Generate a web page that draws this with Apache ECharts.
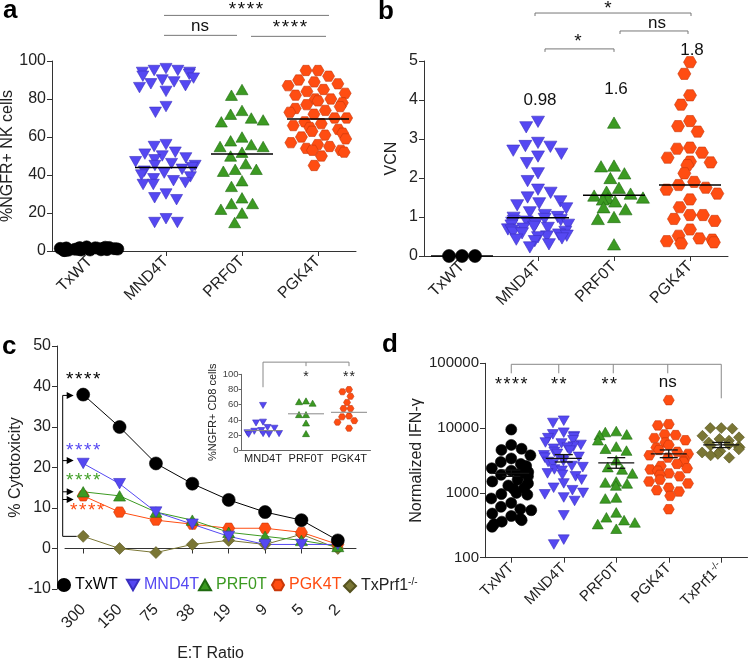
<!DOCTYPE html>
<html><head><meta charset="utf-8">
<script src="https://cdn.jsdelivr.net/npm/echarts@6/dist/echarts.min.js"></script>
<style>html,body{margin:0;padding:0;background:#fff}#main{width:750px;height:660px}</style>
</head><body><div id="main"></div>
<script>
// ================= DATA =================
const groups4 = ['TxWT', 'MND4T', 'PRF0T', 'PGK4T'];
const groups5 = ['TxWT', 'MND4T', 'PRF0T', 'PGK4T', 'TxPrf1'];
const etRatios = ['300', '150', '75', '38', '19', '9', '5', '2'];
const insetGroups = ['MND4T', 'PRF0T', 'PGK4T'];

// panel a: %NGFR+ NK cells
const aTxWT = [0.5,0.8,1.0,1.2,1.5,0.3,0.6,0.9,1.1,1.4,1.8,2.0,0.4,0.7,1.0,1.3,1.6,2.2,0.2,0.5,0.8,1.2,1.5,1.9,0.6,1.0,1.4,0.3,0.9,1.7];
const aMND4T = [96,95,95,94,94,93,92,91,90,89,88,87,86,84,76,73,56,55,52,51,50,49,48,47,46,45,45,44,43,42,41,40,39,38,37,36,35,35,30,28,27,17,15,15];
const aPRF0T = [85,82,74,72,70,69,68,60,58,56,55,55,52,50,46,43,43,42,37,34,28,25,25,22,20,15];
const aPGK4T = [95,95,92,90,89,88,87,85,84,83,82,80,80,79,78,77,76,75,74,73,72,70,70,68,67,66,65,64,63,62,61,60,59,57,56,55,54,53,53,52,50,45];
const aMeans = [1.2, 44, 51, 69.5];

// panel b: VCN
const bTxWT = [0, 0, 0];
const bMND4T = [3.44,3.3,2.9,2.82,2.8,2.7,2.62,2.55,2.38,2.12,1.92,1.7,1.62,1.5,1.4,1.35,1.3,1.22,1.12,1.05,1.0,0.98,0.95,0.92,0.9,0.88,0.85,0.82,0.8,0.78,0.75,0.72,0.7,0.68,0.65,0.62,0.6,0.58,0.55,0.52,0.5,0.48,0.45,0.42,0.38,0.3,0.22];
const bPRF0T = [3.42,2.32,2.3,2.12,2.0,1.75,1.65,1.6,1.55,1.5,1.48,1.45,1.4,1.25,1.2,1.0,0.95,0.3];
const bPGK4T = [4.97,4.67,4.12,3.88,3.46,3.33,3.19,2.78,2.75,2.65,2.52,2.42,2.4,2.33,2.12,1.9,1.82,1.75,1.7,1.6,1.45,1.25,1.05,1.05,0.95,0.9,0.68,0.52,0.45,0.42,0.38,0.35,0.32];
const bMeans = [0, 0.98, 1.56, 1.82];
const bMeanLabels = ['', '0.98', '1.6', '1.8'];

// panel c: % cytotoxicity vs E:T ratio
const cTxWT = [38, 30, 21, 16, 12, 9, 7, 2];
const cMND4T = [21, 16, 9, 6, 3, 1, 1, 1];
const cPRF0T = [14, 13, 9, 7, 4, 3, 2, 0.5];
const cPGK4T = [13, 9, 7, 6, 5, 5, 4, 1];
const cTxPrf1 = [3, 0, -1, 1, 2, 1, 3.5, 0];

// panel c inset: %NGFR+ CD8 cells
const iMND4T = [59,37,36,30,29,26,25,23,22,22,21,21];
const iPRF0T = [65,64,62,47,47,36,22];
const iPGK4T = [80,77,71,63,55,55,45,44,39,37,29];
const iMeans = [26, 48, 50];

// panel d: normalized IFN-gamma
const dTxWT = [9500,5500,4800,4600,3800,3400,3000,2800,2600,2400,2200,2100,2000,1900,1800,1600,1500,1400,1300,1200,1150,1000,960,940,820,700,610,560,540,480,440,400,380,360,330,300];
const dMND4T = [13000,12000,8500,8000,7500,7200,7000,6500,6000,5800,5500,5200,5000,4800,4500,4300,4000,3800,3600,3500,3300,3100,3000,2800,2600,2500,2300,2200,2000,1900,1800,1600,1400,1200,1100,1000,950,850,750,450,190,160];
const dPRF0T = [9000,8700,8000,7800,6500,5200,4800,4500,3200,2500,2300,2000,1500,1450,1400,1300,850,820,500,420,380,350,330,280];
const dPGK4T = [27000,11500,11000,8000,7800,7000,6500,6000,5500,5000,4600,4300,4000,3800,3500,3300,3100,3000,2800,2600,2400,2300,2200,2000,1900,1800,1600,1500,1400,1200,1100,1050,900,560];
const dTxPrf1 = [10000,10000,9800,7600,7200,6800,6400,6000,5600,5400,5200,5000,4700,4400,4200,4000,3800,3500];
const dMeans = [2000, 3400, 2900, 4000, 5500];
const dSemLo = [1800, 3000, 2400, 3500, 5000];
const dSemHi = [2250, 3900, 3500, 4600, 6000];

// ================= STYLE =================
const FONT = 'Liberation Sans, Arial, sans-serif';
const COL = { TxWT: '#000000', MND4T: '#5548f2', PRF0T: '#3c9a22', PGK4T: '#ff4d12', TxPrf1: '#7a7635' };
const BORDER = { TxWT: '#000000', MND4T: '#3a2fc0', PRF0T: '#1f6a10', PGK4T: '#c8380a', TxPrf1: '#55521f' };
const HEX = 'path://M0,50 L25,7 L75,7 L100,50 L75,93 L25,93 Z';
const TRI_DOWN = 'path://M0,0 L100,0 L50,87 Z';
const TRI_UP = 'path://M50,0 L100,87 L0,87 Z';
const SYM = { TxWT: 'circle', MND4T: TRI_DOWN, PRF0T: TRI_UP, PGK4T: HEX, TxPrf1: 'diamond' };

const axisLineStyle = { show: true, lineStyle: { color: '#333', width: 1 } };

function catAxis(grid, cats, extra) {
  return Object.assign({
    gridIndex: grid, type: 'category', data: cats, boundaryGap: true,
    axisLine: axisLineStyle,
    axisTick: { show: true, alignWithLabel: true, length: 5, lineStyle: { color: '#333' } },
    axisLabel: { rotate: 45, fontSize: 16, color: '#222', margin: 8, fontFamily: FONT, interval: 0 },
    splitLine: { show: false }
  }, extra || {});
}
function valAxis(grid, extra) {
  return Object.assign({
    gridIndex: grid, type: 'value',
    axisLine: axisLineStyle,
    axisTick: { show: true, length: 5, lineStyle: { color: '#333' } },
    axisLabel: { fontSize: 16, color: '#222', margin: 6, fontFamily: FONT },
    splitLine: { show: false },
    nameLocation: 'middle',
    nameTextStyle: { fontSize: 16, color: '#222', fontFamily: FONT }
  }, extra || {});
}
function scatter(axisIdx, cat, vals, size) {
  return {
    type: 'scatter', name: 'p' + axisIdx + cat, xAxisIndex: axisIdx, yAxisIndex: axisIdx,
    data: vals.map(v => [cat, v]),
    symbol: SYM[cat], symbolSize: size, symbolKeepAspect: true,
    itemStyle: { color: COL[cat], borderColor: BORDER[cat], borderWidth: 0.6, opacity: 1 },
    z: 2, silent: true
  };
}
function meanSeries(axisIdx, cats, means, width, color, lw) {
  return {
    type: 'custom', xAxisIndex: axisIdx, yAxisIndex: axisIdx, silent: true, z: 10,
    data: cats.map((c, i) => [c, means[i]]),
    renderItem: (p, api) => {
      const pt = api.coord([api.value(0), api.value(1)]);
      return { type: 'line', shape: { x1: pt[0] - width / 2, y1: pt[1], x2: pt[0] + width / 2, y2: pt[1] },
        style: { stroke: color, lineWidth: lw } };
    }
  };
}
function semSeries(axisIdx, cats, means, lo, hi) {
  return {
    type: 'custom', xAxisIndex: axisIdx, yAxisIndex: axisIdx, silent: true, z: 10,
    data: cats.map((c, i) => [c, means[i], lo[i], hi[i]]),
    renderItem: (p, api) => {
      const m = api.coord([api.value(0), api.value(1)]);
      const l = api.coord([api.value(0), api.value(2)]);
      const h = api.coord([api.value(0), api.value(3)]);
      const st = { stroke: '#111', lineWidth: 1.3 };
      return { type: 'group', children: [
        { type: 'line', shape: { x1: m[0] - 18, y1: m[1], x2: m[0] + 18, y2: m[1] }, style: st },
        { type: 'line', shape: { x1: m[0], y1: l[1], x2: m[0], y2: h[1] }, style: st },
        { type: 'line', shape: { x1: m[0] - 9, y1: l[1], x2: m[0] + 9, y2: l[1] }, style: st },
        { type: 'line', shape: { x1: m[0] - 9, y1: h[1], x2: m[0] + 9, y2: h[1] }, style: st }
      ] };
    }
  };
}
function lineSeries(name, vals) {
  return {
    type: 'line', name: name, xAxisIndex: 2, yAxisIndex: 2, data: vals,
    symbol: SYM[name], symbolSize: name === 'TxWT' ? 13 : 12, symbolKeepAspect: true,
    itemStyle: { color: COL[name], borderColor: BORDER[name], borderWidth: 0.6 },
    lineStyle: { color: COL[name], width: 1 }, z: 3, silent: true
  };
}

const chart = echarts.init(document.getElementById('main'), null, { renderer: 'canvas' });

const SUP = { s: { fontSize: 10, padding: [0, 0, 8, 0], color: '#222', fontFamily: FONT } };

const option = {
  animation: false,
  textStyle: { fontFamily: FONT },
  grid: [
    { left: 52, width: 304, top: 61, height: 190, containLabel: false, outerBoundsMode: 'none' },
    { left: 424, width: 304, top: 61, height: 195, containLabel: false, outerBoundsMode: 'none' },
    { left: 65, width: 291, top: 346, height: 243, containLabel: false, outerBoundsMode: 'none' },
    { left: 241.5, width: 129, top: 374.3, height: 76, containLabel: false, outerBoundsMode: 'none' },
    { left: 485, width: 262.5, top: 363.3, height: 194.4, containLabel: false, outerBoundsMode: 'none' }
  ],
  xAxis: [
    catAxis(0, groups4, { jitter: 62, jitterOverlap: false, jitterMargin: 0 }),
    catAxis(1, groups4, { jitter: 62, jitterOverlap: false, jitterMargin: 0 }),
    catAxis(2, etRatios, { offset: 10, name: 'E:T Ratio', nameLocation: 'middle', nameGap: 47,
      nameTextStyle: { fontSize: 16, color: '#222', fontFamily: FONT } }),
    catAxis(3, insetGroups, { jitter: 36, jitterOverlap: false, jitterMargin: 0,
      axisLine: { show: true, lineStyle: { color: '#666', width: 1 } },
      axisTick: { show: false },
      axisLabel: { rotate: 0, fontSize: 11, color: '#222', margin: 3, fontFamily: FONT, interval: 0, hideOverlap: false } }),
    catAxis(4, groups5, { jitter: 40, jitterOverlap: false, jitterMargin: 0,
      axisLabel: { rotate: 45, fontSize: 15, color: '#222', margin: 8, fontFamily: FONT, interval: 0,
        formatter: v => v === 'TxPrf1' ? 'TxPrf1{s|-/-}' : v, rich: SUP } })
  ],
  yAxis: [
    valAxis(0, { min: 0, max: 100, interval: 20, name: '%NGFR+ NK cells', nameGap: 32 }),
    valAxis(1, { min: 0, max: 5, interval: 1, name: 'VCN', nameGap: 24 }),
    valAxis(2, { min: -10, max: 50, interval: 10, offset: 8, name: '% Cytotoxicity', nameGap: 30 }),
    valAxis(3, { min: 0, max: 100, interval: 20, name: '%NGFR+ CD8 cells', nameGap: 19,
      axisLine: { show: true, lineStyle: { color: '#666', width: 1 } },
      axisTick: { show: true, length: 3, lineStyle: { color: '#666' } },
      axisLabel: { fontSize: 9.5, color: '#444', margin: 3, fontFamily: FONT },
      nameTextStyle: { fontSize: 11, color: '#222', fontFamily: FONT } }),
    valAxis(4, { type: 'log', logBase: 10, min: 100, max: 100000, name: 'Normalized IFN-\u03b3', nameGap: 54,
      axisLabel: { fontSize: 15, color: '#222', margin: 6, fontFamily: FONT, formatter: v => String(Math.round(v)) },
      minorTick: { show: false } })
  ],
  legend: [
    ['TxWT', 57, 'circle'], ['MND4T', 126, TRI_DOWN], ['PRF0T', 198, TRI_UP],
    ['PGK4T', 271, HEX], ['TxPrf1', 343, 'diamond']
  ].map(([n, x, ic]) => ({
    left: x, top: 577, itemWidth: 12, itemHeight: 12, padding: 0, selectedMode: false,
    data: [{ name: n, icon: ic, itemStyle: { color: COL[n] } }],
    formatter: nm => nm === 'TxPrf1' ? 'TxPrf1{s|-/-}' : nm,
    textStyle: { fontSize: 16, fontFamily: FONT, color: n === 'TxPrf1' ? '#222' : COL[n], rich: SUP }
  })),
  series: [
    // panel a
    scatter(0, 'TxWT', aTxWT, 12), scatter(0, 'MND4T', aMND4T, 12),
    scatter(0, 'PRF0T', aPRF0T, 12), scatter(0, 'PGK4T', aPGK4T, 12),
    meanSeries(0, groups4, aMeans, 62, '#000', 1.5),
    // panel b
    scatter(1, 'TxWT', bTxWT, 13), scatter(1, 'MND4T', bMND4T, 13),
    scatter(1, 'PRF0T', bPRF0T, 13), scatter(1, 'PGK4T', bPGK4T, 13),
    meanSeries(1, groups4, bMeans, 62, '#000', 1.5),
    // panel c
    lineSeries('TxPrf1', cTxPrf1), lineSeries('PGK4T', cPGK4T), lineSeries('PRF0T', cPRF0T),
    lineSeries('MND4T', cMND4T), lineSeries('TxWT', cTxWT),
    // inset
    scatter(3, 'MND4T', iMND4T, 7), scatter(3, 'PRF0T', iPRF0T, 7), scatter(3, 'PGK4T', iPGK4T, 7),
    meanSeries(3, insetGroups, iMeans, 36, '#888', 1),
    // panel d
    scatter(4, 'TxWT', dTxWT, 11), scatter(4, 'MND4T', dMND4T, 11), scatter(4, 'PRF0T', dPRF0T, 11),
    scatter(4, 'PGK4T', dPGK4T, 11), scatter(4, 'TxPrf1', dTxPrf1, 11),
    semSeries(4, groups5, dMeans, dSemLo, dSemHi)
  ]
};
chart.setOption(option);

// ================= ANNOTATIONS =================
const P = (g, x, y) => chart.convertToPixel({ gridIndex: g }, [x, y]);
const G = [];
function ln(x1, y1, x2, y2, color, w) {
  G.push({ type: 'line', shape: { x1, y1, x2, y2 }, style: { stroke: color || '#666', lineWidth: w || 1 }, z: 20 });
}
function tx(x, y, text, size, color, bold, align) {
  G.push({ type: 'text', x, y, style: { text, fontSize: size, fontFamily: FONT, fill: color || '#111',
    fontWeight: bold ? 'bold' : 'normal', align: align || 'center', verticalAlign: 'middle' }, z: 20 });
}
const STARS4 = '*\u200a*\u200a*\u200a*';
const STARS2 = '*\u200a*';

// panel letters
tx(3, 11, 'a', 26, '#000', true, 'left');
tx(378, 12, 'b', 26, '#000', true, 'left');
tx(2, 347, 'c', 26, '#000', true, 'left');
tx(382, 345, 'd', 26, '#000', true, 'left');

// panel a brackets
{
  const m = P(0, 1, 0)[0], r = P(0, 2, 0)[0], k = P(0, 3, 0)[0];
  const yTop = P(0, 0, 124)[1], yLow = P(0, 0, 113.5)[1];
  ln(m - 2, yTop, k + 11, yTop, '#777');
  tx((m + k) / 2 + 4, yTop - 6, STARS4, 19, '#111');
  ln(m - 2, yLow, r - 5, yLow, '#777');
  tx((m + r) / 2 - 4, yLow - 9, 'ns', 17, '#111');
  ln(r + 9, yLow + 1, k + 8, yLow + 1, '#777');
  tx((r + k) / 2 + 10, yLow - 8, STARS4, 19, '#111');
}
// panel b brackets and mean labels
{
  const m = P(1, 1, 0)[0], r = P(1, 2, 0)[0], k = P(1, 3, 0)[0];
  const y1 = P(1, 0, 6.23)[1], y2 = P(1, 0, 5.77)[1], y3 = P(1, 0, 5.31)[1];
  const br = (xa, xb, y) => { ln(xa, y, xb, y, '#777'); ln(xa, y, xa, y + 3, '#777'); ln(xb, y, xb, y + 3, '#777'); };
  br(m - 3, k + 1, y1); tx((m + k) / 2 - 6, y1 - 4, '*', 19, '#111');
  br(r + 6, k - 2, y2); tx((r + k) / 2 + 5, y2 - 8, 'ns', 17, '#111');
  br(m + 7, r, y3); tx((m + r) / 2 + 2, y3 - 7, '*', 19, '#111');
  const lab = [[1, 4.0], [2, 4.28], [3, 5.28]];
  lab.forEach(([i, v]) => { const p = P(1, i, v); tx(p[0] + 2, p[1], bMeanLabels[i], 17, '#111'); });
}
// panel c stars and bracket arrows
{
  const x0 = P(2, 0, 0)[0];
  const xv = x0 - 20.5;
  const yA = P(2, 0, 37.8)[1], yB = P(2, 0, 21.7)[1], yC = P(2, 0, 14)[1], yD = P(2, 0, 12.1)[1], yE = P(2, 0, 3)[1];
  ln(xv, yA, xv, yE, '#000');
  ln(xv, yE, xv + 14, yE, '#000');
  [yA, yB, yC, yD].forEach(y => {
    ln(xv, y, xv + 5, y, '#000');
    G.push({ type: 'polygon', shape: { points: [[xv + 4, y - 3.5], [xv + 11, y], [xv + 4, y + 3.5]] }, style: { fill: '#000' }, z: 20 });
  });
  tx(x0, P(2, 0, 41.6)[1], STARS4, 19, '#000');
  tx(x0, P(2, 0, 24.2)[1], STARS4, 19, COL.MND4T);
  tx(x0, P(2, 0, 16.8)[1], STARS4, 19, '#43a02a');
  tx(x0 + 4, P(2, 0, 9.4)[1], STARS4, 19, COL.PGK4T);
}
// inset bracket
{
  const m = P(3, 0, 0)[0], r = P(3, 1, 0)[0], k = P(3, 2, 0)[0];
  const yT = P(3, 0, 116)[1], yB = P(3, 0, 83)[1];
  ln(m, yB, m, yT, '#888'); ln(m, yT, k, yT, '#888'); ln(k, yT, k, yT + 4, '#888'); ln(r, yT, r, yT + 4, '#888');
  tx(r, P(3, 0, 100)[1] + 3, '*', 14, '#222');
  tx(k, P(3, 0, 100)[1] + 3, STARS2, 14, '#222');
}
// panel d bracket
{
  const xs = [0, 1, 2, 3, 4].map(i => P(4, i, 100)[0]);
  const yT = P(4, 0, 100000)[1] + 1;
  ln(xs[0], yT, xs[4], yT, '#888');
  ln(xs[0], yT, xs[0], yT + 9, '#888');
  ln(xs[1] - 5, yT, xs[1] - 5, yT + 9, '#888');
  ln(xs[2] - 3, yT, xs[2] - 3, yT + 9, '#888');
  ln(xs[3] - 1, yT, xs[3] - 1, yT + 9, '#888');
  ln(xs[4], yT, xs[4], yT + 34, '#888');
  const ys = yT + 21;
  tx(xs[0], ys, STARS4, 18, '#111');
  tx(xs[1] - 5, ys, STARS2, 18, '#111');
  tx(xs[2] - 7, ys, STARS2, 18, '#111');
  tx(xs[3] - 1, ys - 3, 'ns', 17, '#111');
}
chart.setOption({ graphic: { elements: G } });
</script>
</body></html>
